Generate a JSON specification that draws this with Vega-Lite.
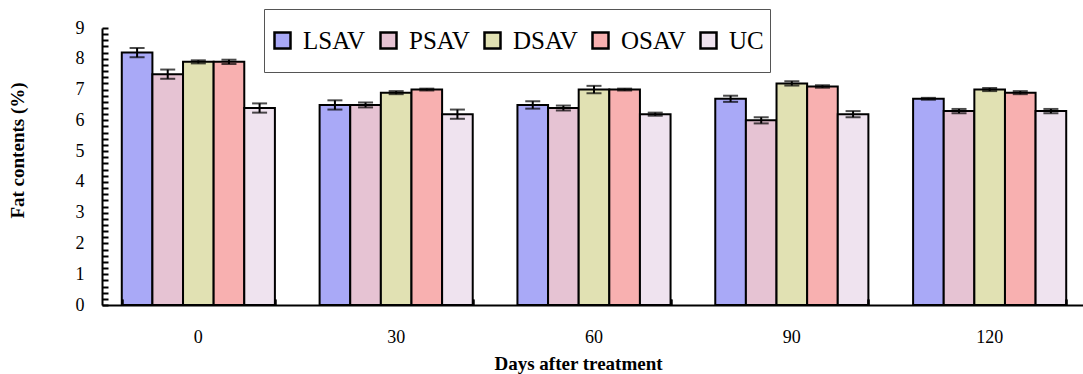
{
  "$schema": "https://vega.github.io/schema/vega-lite/v6.json",
  "width": 984,
  "height": 277,
  "autosize": {"type": "none"},
  "padding": {"left": 102, "top": 28, "right": 0, "bottom": 69},
  "background": "white",
  "config": {
    "view": {"stroke": null},
    "font": "Liberation Serif",
    "style": {"guide-label": {"font": "Liberation Serif"}, "guide-title": {"font": "Liberation Serif"}},
    "axis": {
      "domainColor": "black", "domainWidth": 2, "tickColor": "black", "tickWidth": 2, "ticks": true,
      "labelFont": "Liberation Serif", "labelFontSize": 18, "labelColor": "black",
      "titleFont": "Liberation Serif", "titleFontSize": 19, "titleFontWeight": "bold", "titleColor": "black",
      "grid": false, "zindex": 1
    },
    "axisBand": {"ticks": true, "tickColor": "black", "tickWidth": 2, "tickOpacity": 1},
    "legend": {"labelFont": "Liberation Serif", "labelFontSize": 25, "labelColor": "black", "labelFontWeight": "normal"}
  },
  "data": {"values": [
    {"day": "0", "group": "LSAV", "mean": 8.2, "lo": 8.05, "hi": 8.35},
    {"day": "0", "group": "PSAV", "mean": 7.5, "lo": 7.35, "hi": 7.65},
    {"day": "0", "group": "DSAV", "mean": 7.9, "lo": 7.85, "hi": 7.95},
    {"day": "0", "group": "OSAV", "mean": 7.9, "lo": 7.83, "hi": 7.97},
    {"day": "0", "group": "UC", "mean": 6.4, "lo": 6.25, "hi": 6.55},
    {"day": "30", "group": "LSAV", "mean": 6.5, "lo": 6.35, "hi": 6.65},
    {"day": "30", "group": "PSAV", "mean": 6.5, "lo": 6.42, "hi": 6.58},
    {"day": "30", "group": "DSAV", "mean": 6.9, "lo": 6.85, "hi": 6.95},
    {"day": "30", "group": "OSAV", "mean": 7.0, "lo": 6.97, "hi": 7.03},
    {"day": "30", "group": "UC", "mean": 6.2, "lo": 6.05, "hi": 6.35},
    {"day": "60", "group": "LSAV", "mean": 6.5, "lo": 6.38, "hi": 6.62},
    {"day": "60", "group": "PSAV", "mean": 6.4, "lo": 6.32, "hi": 6.48},
    {"day": "60", "group": "DSAV", "mean": 7.0, "lo": 6.88, "hi": 7.12},
    {"day": "60", "group": "OSAV", "mean": 7.0, "lo": 6.97, "hi": 7.03},
    {"day": "60", "group": "UC", "mean": 6.2, "lo": 6.15, "hi": 6.25},
    {"day": "90", "group": "LSAV", "mean": 6.7, "lo": 6.6, "hi": 6.8},
    {"day": "90", "group": "PSAV", "mean": 6.0, "lo": 5.9, "hi": 6.1},
    {"day": "90", "group": "DSAV", "mean": 7.2, "lo": 7.13, "hi": 7.27},
    {"day": "90", "group": "OSAV", "mean": 7.1, "lo": 7.06, "hi": 7.14},
    {"day": "90", "group": "UC", "mean": 6.2, "lo": 6.1, "hi": 6.3},
    {"day": "120", "group": "LSAV", "mean": 6.7, "lo": 6.67, "hi": 6.73},
    {"day": "120", "group": "PSAV", "mean": 6.3, "lo": 6.23, "hi": 6.37},
    {"day": "120", "group": "DSAV", "mean": 7.0, "lo": 6.95, "hi": 7.05},
    {"day": "120", "group": "OSAV", "mean": 6.9, "lo": 6.85, "hi": 6.95},
    {"day": "120", "group": "UC", "mean": 6.3, "lo": 6.23, "hi": 6.37}
  ]},
  "encoding": {
    "xOffset": {
      "field": "group", "type": "nominal", "sort": ["LSAV", "PSAV", "DSAV", "OSAV", "UC"],
      "scale": {"paddingInner": 0, "paddingOuter": 0}
    }
  },
  "resolve": {"axis": {"y": "independent", "x": "independent"}},
  "layer": [
    {
      "mark": {"type": "bar", "stroke": "black", "strokeWidth": 2},
      "encoding": {
        "x": {
          "field": "day", "type": "ordinal", "sort": ["0", "30", "60", "90", "120"],
          "scale": {"paddingInner": 0.226, "paddingOuter": 0.1},
          "axis": {
            "title": "Days after treatment", "labelAngle": 0, "ticks": false, "labelPadding": 23,
            "zindex": 1, "orient": "bottom",
            "titleX": 476, "titleY": 58, "titleBaseline": "middle"
          }
        },
        "y": {
          "field": "mean", "type": "quantitative",
          "scale": {"domain": [0, 9], "nice": false},
          "axis": {
            "title": "Fat contents (%)",
            "values": [0, 0.2, 0.4, 0.6, 0.8, 1, 1.2, 1.4, 1.6, 1.8, 2, 2.2, 2.4, 2.6, 2.8, 3, 3.2, 3.4, 3.6, 3.8, 4, 4.2, 4.4, 4.6, 4.8, 5, 5.2, 5.4, 5.6, 5.8, 6, 6.2, 6.4, 6.6, 6.8, 7, 7.2, 7.4, 7.6, 7.8, 8, 8.2, 8.4, 8.6, 8.8, 9],
            "labelExpr": "datum.value % 1 === 0 ? '' + datum.value : ''",
            "labelOverlap": false,
            "ticks": true,
            "tickSize": -6,
            "zindex": 1,
            "labelPadding": 24,
            "orient": "left",
            "titleX": -85, "titleY": 122, "titleAlign": "center", "titleBaseline": "middle"
          }
        },
        "fill": {
          "field": "group", "type": "nominal", "sort": ["LSAV", "PSAV", "DSAV", "OSAV", "UC"],
          "scale": {"range": ["#a9a9f7", "#e6c3d3", "#e1e1b3", "#f8b0b0", "#efe3ef"]},
          "legend": {
            "title": null, "orient": "none", "legendX": 162, "legendY": -19,
            "direction": "horizontal", "columns": 5,
            "strokeColor": "#555", "fillColor": "white", "padding": 6,
            "symbolType": "square", "symbolSize": 256, "symbolStrokeColor": "black", "symbolStrokeWidth": 2.5,
            "labelFont": "Liberation Serif", "labelFontSize": 25, "labelColor": "black",
            "labelOffset": 8, "columnPadding": 10, "clipHeight": 51
          }
        }
      }
    },
    {
      "mark": {"type": "rule", "color": "black", "strokeWidth": 2},
      "encoding": {
        "x": {
          "field": "day", "type": "ordinal", "sort": ["0", "30", "60", "90", "120"],
          "axis": {
            "title": null, "labels": false, "domain": false, "ticks": true, "tickSize": -6,
            "tickBand": "extent", "tickOffset": -22.3, "orient": "bottom", "zindex": 2
          }
        },
        "y": {"field": "lo", "type": "quantitative", "axis": null},
        "y2": {"field": "hi"}
      }
    },
    {
      "mark": {"type": "tick", "color": "black", "thickness": 2, "size": 15},
      "encoding": {
        "x": {
          "field": "day", "type": "ordinal", "sort": ["0", "30", "60", "90", "120"],
          "axis": {
            "title": null, "labels": false, "domain": false, "ticks": true, "tickSize": -6,
            "tickBand": "extent", "tickOffset": 76.5, "orient": "bottom", "zindex": 2
          }
        },
        "y": {"field": "lo", "type": "quantitative", "axis": null}
      }
    },
    {
      "mark": {"type": "tick", "color": "black", "thickness": 2, "size": 15},
      "encoding": {
        "x": {"field": "day", "type": "ordinal", "sort": ["0", "30", "60", "90", "120"], "axis": null},
        "y": {"field": "hi", "type": "quantitative", "axis": null}
      }
    }
  ]
}
